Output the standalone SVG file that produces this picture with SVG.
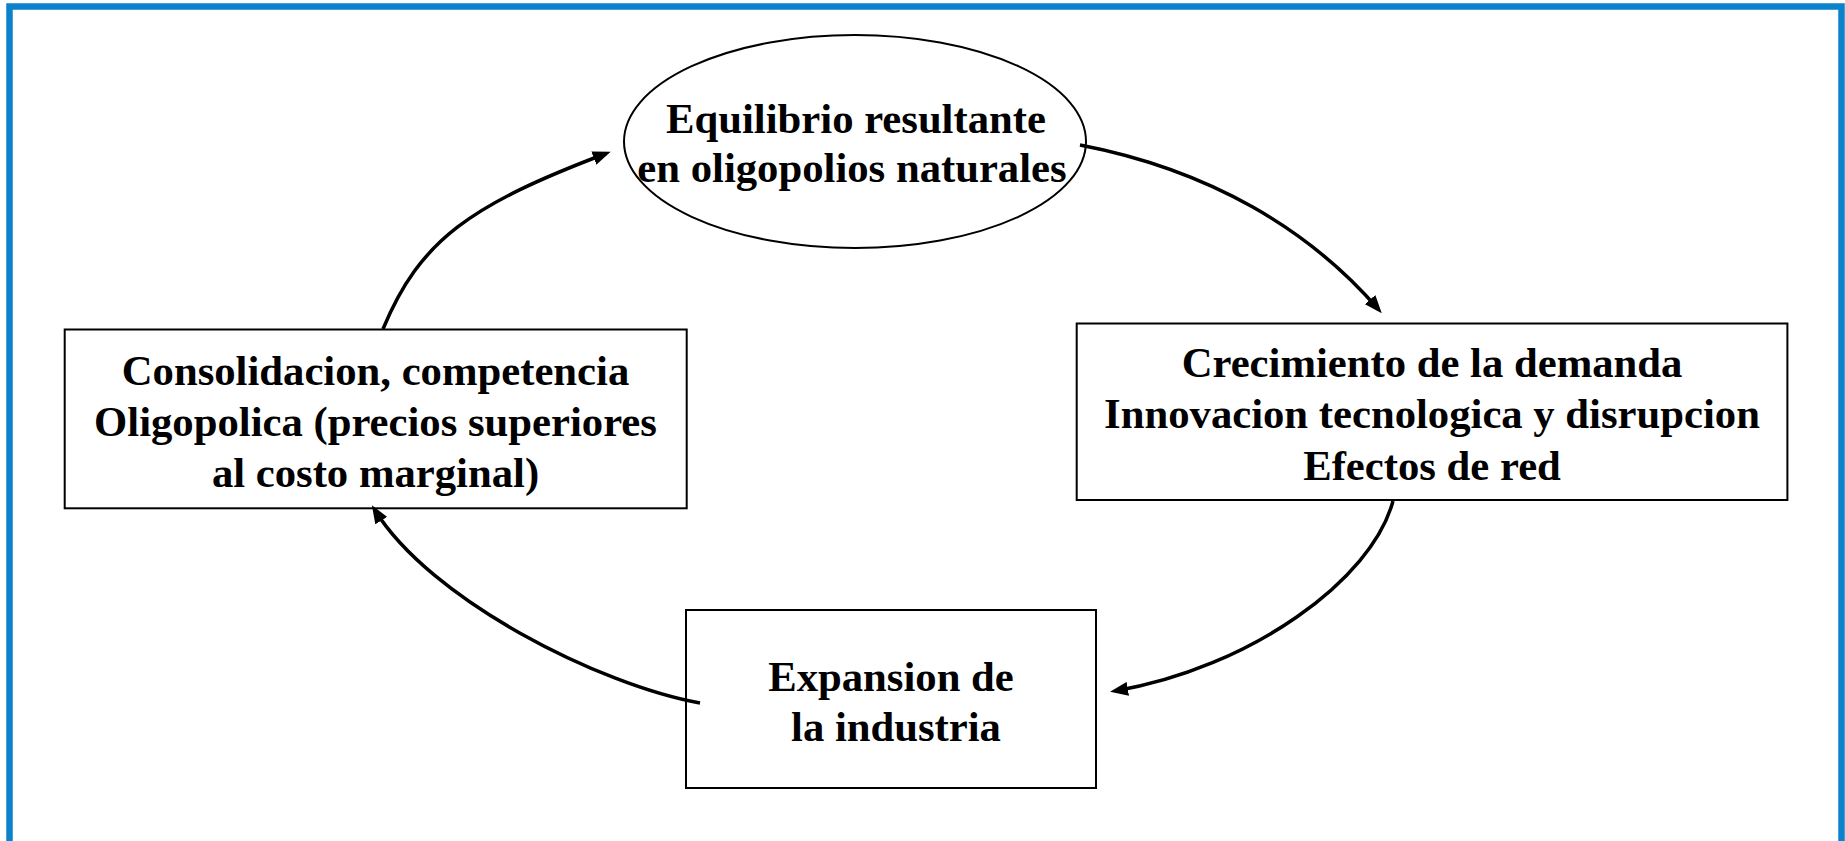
<svg xmlns="http://www.w3.org/2000/svg" width="1845" height="841" viewBox="0 0 1845 841">
<defs>
<style>
.t{font-family:"Liberation Serif","Times New Roman",serif;font-weight:bold;font-size:42.7px;fill:#000;text-anchor:middle}
.n{fill:#fff;stroke:#000;stroke-width:2}
.c{fill:none;stroke:#000;stroke-width:3.5;marker-end:url(#ah)}
</style>
<marker id="ah" markerUnits="userSpaceOnUse" markerWidth="18" markerHeight="14" refX="13" refY="7" orient="auto">
<path d="M0,0 L18,7 L0,14 z" fill="#000"/>
</marker>
</defs>
<rect x="0" y="0" width="1845" height="841" fill="#fff"/>
<rect x="9.5" y="6.5" width="1832" height="850" fill="none" stroke="#0b82cc" stroke-width="6.5"/>
<g id="node-equilibrio">
<ellipse class="n" cx="855" cy="141.5" rx="231" ry="106.5"/>
<text class="t" x="856" y="132.7">Equilibrio resultante</text>
<text class="t" x="852" y="181.7">en oligopolios naturales</text>
</g>
<g id="node-crecimiento">
<rect class="n" x="1076.7" y="323.5" width="710.7" height="176.5"/>
<text class="t" x="1432" y="376.5">Crecimiento de la demanda</text>
<text class="t" x="1432" y="428">Innovacion tecnologica y disrupcion</text>
<text class="t" x="1432" y="480">Efectos de red</text>
</g>
<g id="node-expansion">
<rect class="n" x="686" y="610" width="410" height="178"/>
<text class="t" x="891" y="690.7">Expansion de</text>
<text class="t" x="896" y="740.7">la industria</text>
</g>
<g id="node-consolidacion">
<rect class="n" x="64.7" y="329.5" width="622" height="178.8"/>
<text class="t" x="375.5" y="385">Consolidacion, competencia</text>
<text class="t" x="375.5" y="436">Oligopolica (precios superiores</text>
<text class="t" x="375.5" y="487">al costo marginal)</text>
</g>
<g id="connectors">
<path class="c" d="M383,329 C420,240 470,205 606,153.5"/>
<path class="c" d="M1080,145 C1210,170 1310,230 1378.5,309.5"/>
<path class="c" d="M1393,501 C1372,580 1250,668 1115,691"/>
<path class="c" d="M700,703 C600,685 430,600 374.5,509.5"/>
</g>
</svg>
